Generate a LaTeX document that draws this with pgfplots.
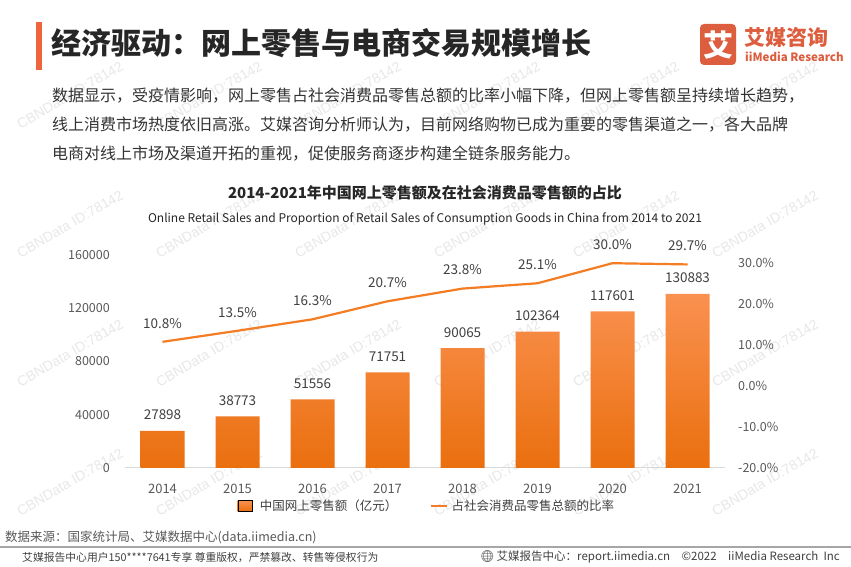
\documentclass[border=0pt]{standalone}
\usepackage{fontspec}
\setmainfont{Noto Sans CJK SC}
\newfontfamily\wmfont{Liberation Sans}
\newfontfamily\emojifont{Noto Emoji}
\usepackage{pgfplots}
\pgfplotsset{compat=1.18}
\definecolor{accent}{HTML}{F0643C}
\definecolor{logo}{HTML}{DC5E3E}
\definecolor{txt}{HTML}{262626}
\definecolor{para}{HTML}{333333}
\definecolor{tickc}{HTML}{595959}
\definecolor{lab}{HTML}{404040}
\definecolor{bartop}{HTML}{FA9150}
\definecolor{barbot}{HTML}{EA6F0E}
\definecolor{linec}{HTML}{F47C22}
\definecolor{axisc}{HTML}{D9D9D9}
\definecolor{wm}{HTML}{E8E8E8}
\newcommand\fs[1]{\fontsize{#1}{#1}\selectfont}
\begin{document}
\begin{tikzpicture}[x=1pt,y=1pt]
\useasboundingbox (0,0) rectangle (851,567);
\fill[white] (0,0) rectangle (851,567);
% watermarks
\foreach \yy in {472,343,214,85} {
  \foreach \xx in {70,209,348,487,626,765} {
    \node[rotate=30, text=wm, font=\wmfont\fs{14}] at (\xx,\yy) {CBNData ID:78142};
  }
}
% header
\fill[accent] (36,497) rectangle (42,545);
\node[anchor=west, inner sep=0, text=txt, font=\fs{30}\bfseries] at (51,524) {经济驱动：网上零售与电商交易规模增长};
\fill[logo, rounded corners=4pt] (700,502) rectangle (736,543);
\node[text=white, font=\fs{30}\bfseries, inner sep=0] at (718,522) {艾};
\node[anchor=west, inner sep=0, text=logo, font=\fs{21}\bfseries] at (744,530) {艾媒咨询};
\node[anchor=west, inner sep=0, text=logo, font=\fs{11.5}\bfseries] at (745,510) {iiMedia Research};
% paragraph
\node[anchor=west, inner sep=0, text=para, font=\fs{16}] at (52,471) {数据显示，受疫情影响，网上零售占社会消费品零售总额的比率小幅下降，但网上零售额呈持续增长趋势，};
\node[anchor=west, inner sep=0, text=para, font=\fs{16}] at (52,442) {线上消费市场热度依旧高涨。艾媒咨询分析师认为，目前网络购物已成为重要的零售渠道之一，各大品牌};
\node[anchor=west, inner sep=0, text=para, font=\fs{16}] at (52,413) {电商对线上市场及渠道开拓的重视，促使服务商逐步构建全链条服务能力。};
% chart titles
\node[inner sep=0, text=txt, font=\fs{15}\bfseries] at (425,374) {2014-2021年中国网上零售额及在社会消费品零售额的占比};
\node[inner sep=0, text=txt, font=\fs{12}] at (425,348) {Online Retail Sales and Proportion of Retail Sales of Consumption Goods in China from 2014 to 2021};
% bars
\begin{axis}[
  at={(125pt,99pt)}, anchor=south west, scale only axis,
  width=600pt, height=213pt,
  xmin=-0.5, xmax=7.5, ymin=0, ymax=160000,
  scaled y ticks=false,
  xtick={0,...,7}, xticklabels={2014,2015,2016,2017,2018,2019,2020,2021},
  ytick={0,40000,80000,120000,160000},
  yticklabels={0,40000,80000,120000,160000},
  axis lines*=left,
  x axis line style={draw=axisc, line width=1pt},
  y axis line style={draw=none},
  major tick length=0pt,
  tick label style={text=tickc, inner sep=0pt},
  yticklabel style={font=\fs{12.5}},
  xticklabel style={font=\fs{13}},
  yticklabel shift=15pt,
  xticklabel shift=15.5pt,
]
\addplot[ybar, bar width=44pt, draw=none, top color=bartop, bottom color=barbot,
  point meta=explicit symbolic, nodes near coords,
  nodes near coords style={text=lab, font=\fs{13.5}, inner sep=0pt, yshift=10.5pt}]
  coordinates {(0,27898)[27898] (1,38773)[38773] (2,51556)[51556] (3,71751)[71751]
               (4,90065)[90065] (5,102364)[102364] (6,117601)[117601] (7,130883)[130883]};
\end{axis}
% line
\begin{axis}[
  at={(125pt,99pt)}, anchor=south west, scale only axis,
  width=600pt, height=213pt,
  xmin=-0.5, xmax=7.5, ymin=-20, ymax=32,
  axis x line=none,
  axis y line*=right,
  y axis line style={draw=none},
  major tick length=0pt,
  ytick={-20,-10,0,10,20,30},
  yticklabels={-20.0\%,-10.0\%,0.0\%,10.0\%,20.0\%,30.0\%},
  yticklabel style={text=tickc, inner sep=0pt, font=\fs{12.5}},
  yticklabel shift=13pt,
  legend style={at={(0.503,-0.178)}, anchor=center, legend columns=2, draw=none, fill=none,
    font=\fs{12.5}, text=lab, inner sep=0pt,
    /tikz/every even column/.append style={column sep=30pt}},
  legend cell align=left,
]
\addlegendimage{legend image code/.code={\fill[top color=bartop,bottom color=barbot] (0pt,-5.5pt) rectangle (14pt,5.5pt); \path (20pt,0pt);}}
\addlegendentry{中国网上零售额（亿元）}
\addplot[linec, line width=2.2pt, mark=none,
  point meta=explicit symbolic, nodes near coords,
  nodes near coords style={text=lab, font=\fs{13.5}, inner sep=0pt, yshift=12.5pt},
  legend image code/.code={\draw[linec,line width=2.2pt] (0pt,0pt)--(16pt,0pt); \path (18pt,0pt);}]
  coordinates {(0,10.8)[10.8\%] (1,13.5)[13.5\%] (2,16.3)[16.3\%] (3,20.7)[20.7\%]
               (4,23.8)[23.8\%] (5,25.1)[25.1\%] (6,30.0)[30.0\%] (7,29.7)[29.7\%]};
\addlegendentry{占社会消费品零售总额的比率}
\end{axis}
% footer
\node[anchor=west, inner sep=0, text=tickc, font=\fs{12.5}] at (5,30) {数据来源：国家统计局、艾媒数据中心(data.iimedia.cn)};
\draw[color=gray!70, line width=1.2pt] (0,20) -- (851,20);
\node[anchor=west, inner sep=0, text=lab, font=\fs{10.8}] at (22,10) {艾媒报告中心用户150****7641专享 尊重版权，严禁篡改、转售等侵权行为};
\node[anchor=east, inner sep=0, text=lab, font=\fs{11.5}] at (840,10) {{\emojifont 🌐}\,艾媒报告中心：report.iimedia.cn\quad ©2022\quad iiMedia Research\ \ Inc};
\end{tikzpicture}
\end{document}
